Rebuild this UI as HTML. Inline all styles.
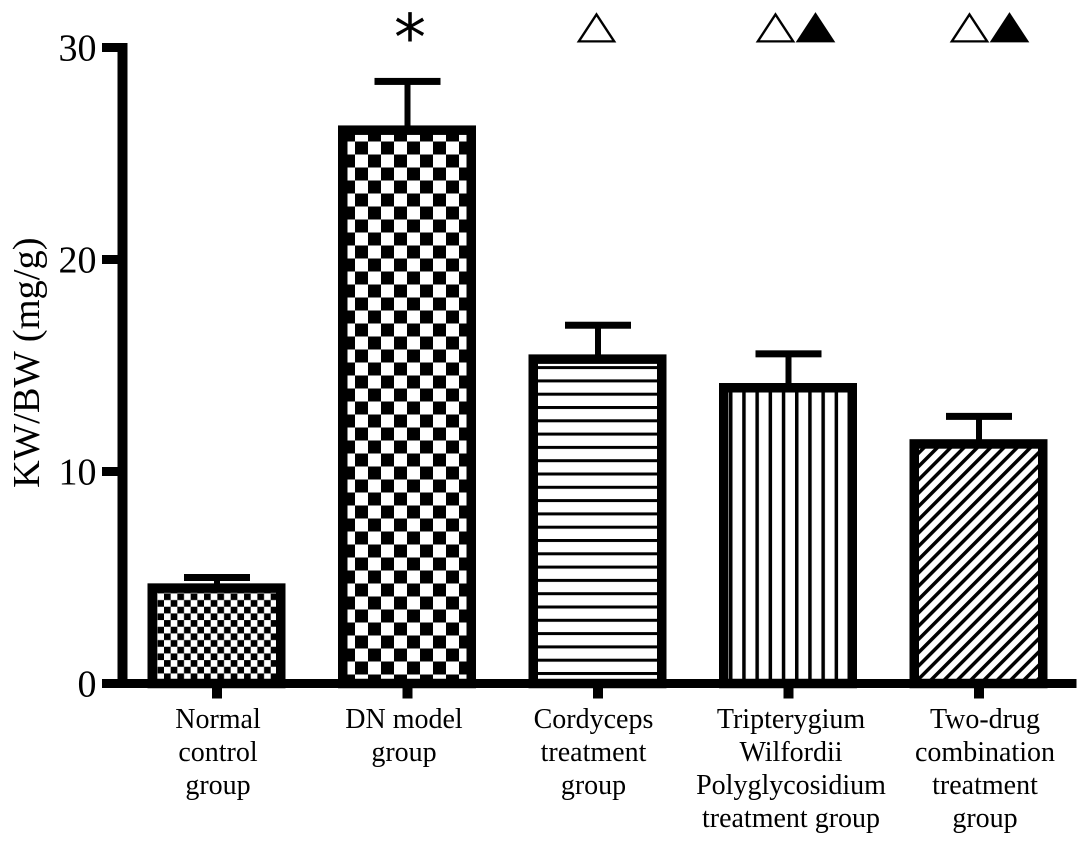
<!DOCTYPE html>
<html>
<head>
<meta charset="utf-8">
<title>KW/BW chart</title>
<style>
html,body{margin:0;padding:0;background:#fff;}
svg{display:block;}
text{font-family:"Liberation Serif","DejaVu Serif",serif;fill:#000;}
</style>
</head>
<body>
<svg id="chart" xmlns="http://www.w3.org/2000/svg" width="1087" height="844" viewBox="0 0 1087 844">
  <defs>
    <pattern id="pat-fine-check" patternUnits="userSpaceOnUse" x="164" y="593.4" width="13.34" height="13.34">
      <rect width="13.34" height="13.34" fill="#fff"/>
      <rect x="0" y="0" width="6.67" height="6.67" fill="#000"/>
      <rect x="6.67" y="6.67" width="6.67" height="6.67" fill="#000"/>
    </pattern>
    <pattern id="pat-coarse-check" patternUnits="userSpaceOnUse" x="355" y="141.5" width="26" height="26">
      <rect width="26" height="26" fill="#fff"/>
      <rect x="0" y="0" width="13" height="13" fill="#000"/>
      <rect x="13" y="13" width="13" height="13" fill="#000"/>
    </pattern>
    <pattern id="pat-horizontal" patternUnits="userSpaceOnUse" x="0" y="605.5" width="20" height="13.3">
      <rect width="20" height="13.3" fill="#fff"/>
      <rect x="0" y="0" width="20" height="3" fill="#000"/>
    </pattern>
    <pattern id="pat-vertical" patternUnits="userSpaceOnUse" x="742.2" y="0" width="13.2" height="20">
      <rect width="13.2" height="20" fill="#fff"/>
      <rect x="0" y="0" width="3.5" height="20" fill="#000"/>
    </pattern>
    <pattern id="pat-diagonal" patternUnits="userSpaceOnUse" width="9.4" height="9.4" patternTransform="rotate(45)">
      <rect width="9.4" height="9.4" fill="#fff"/>
      <rect x="0" y="0" width="3.5" height="9.4" fill="#000"/>
    </pattern>
  </defs>
  <g id="marks"></g>
  <g id="axes"></g>
  <text transform="translate(39,488) rotate(-90)" font-size="38.5">KW/BW (mg/g)</text>
</svg>
<script>
var categories = [
  ["Normal", "control", "group"],
  ["DN model", "group"],
  ["Cordyceps", "treatment", "group"],
  ["Tripterygium", "Wilfordii", "Polyglycosidium", "treatment group"],
  ["Two-drug", "combination", "treatment", "group"]
];
var meanValues = [4.5, 26.1, 15.3, 13.95, 11.3];
var errorTops = [5.0, 28.4, 16.9, 15.55, 12.6];
var tickLabels = [0, 10, 20, 30];
var significance = ["", "*", "△", "△▲", "△▲"];
var patternIds = ["pat-fine-check", "pat-coarse-check", "pat-horizontal", "pat-vertical", "pat-diagonal"];

var NS = "http://www.w3.org/2000/svg";
var marks = document.getElementById("marks");
var axes = document.getElementById("axes");

function yScale(v) { return 683.5 - v * 21.2; }
function xBand(i) { return 216.5 + i * 190.5; }
function make(tag, parent, props) {
  var el = document.createElementNS(NS, tag);
  for (var k in props) { el.setAttribute(k, props[k]); }
  parent.appendChild(el);
  return el;
}

var BAR_W = 138, BORDER = 9.5, CAP_W = 66, CAP_H = 7, STEM_W = 6;

meanValues.forEach(function (value, i) {
  var cx = xBand(i);
  var top = yScale(value);
  var errY = yScale(errorTops[i]);
  var stem = make("rect", marks, {x: cx + 0.5 - STEM_W / 2, y: errY, width: STEM_W, height: top - errY, fill: "#000"});
  
  
  var cap = make("rect", marks, {x: cx + 0.5 - CAP_W / 2, y: errY - CAP_H / 2, width: CAP_W, height: CAP_H, fill: "#000"});
  
  
  var bar = make("rect", marks, {
    x: cx - BAR_W / 2 + BORDER / 2,
    y: top,
    width: BAR_W - BORDER,
    height: yScale(0) - top,
    fill: "url(#" + patternIds[i] + ")",
    stroke: "#000",
    "stroke-width": BORDER,
    "stroke-linejoin": "miter"
  });
  
  
});

var yLine = make("rect", axes, {x: 117.5, y: 43, width: 10, height: 645, fill: "#000"});


var xLine = make("rect", axes, {x: 117.5, y: 679, width: 959, height: 9, fill: "#000"});



tickLabels.forEach(function (t) {
  var y = yScale(t);
  var tick = make("rect", axes, {x: 102, y: y - 4.5, width: 20, height: 9, fill: "#000"});
  
  
  var label = make("text", axes, {x: 96.5, y: y + 13, "font-size": 38, "text-anchor": "end"});
  label.textContent = String(t);
  
  
});

var labelShift = [1.5, -3, -4, 3, 6.5];
var markShift = [0, 3, -1, 7.5, 11];

categories.forEach(function (lines, i) {
  var cx = xBand(i);
  var tick = make("rect", axes, {x: cx - 4.5, y: 683, width: 10, height: 15.5, fill: "#000"});
  
  
  lines.forEach(function (line, n) {
    var label = make("text", axes, {x: cx + labelShift[i], y: 728 + n * 33, "font-size": 28, "text-anchor": "middle"});
    label.textContent = line;
    
    
  });
  var sig = significance[i];
  if (sig) {
    var isStar = sig === "*";
    var mark = make("text", axes, {
      transform: "translate(" + (cx + markShift[i]) + "," + (isStar ? 60 : 37.5) + ") scale(1," + (isStar ? 1 : 0.76) + ")",
      "font-size": isStar ? 64 : 52,
      "text-anchor": "middle",
      style: 'font-family:"DejaVu Sans","Liberation Sans",sans-serif;'
    });
    mark.textContent = sig;
    
    
  }
});
</script>
</body>
</html>
